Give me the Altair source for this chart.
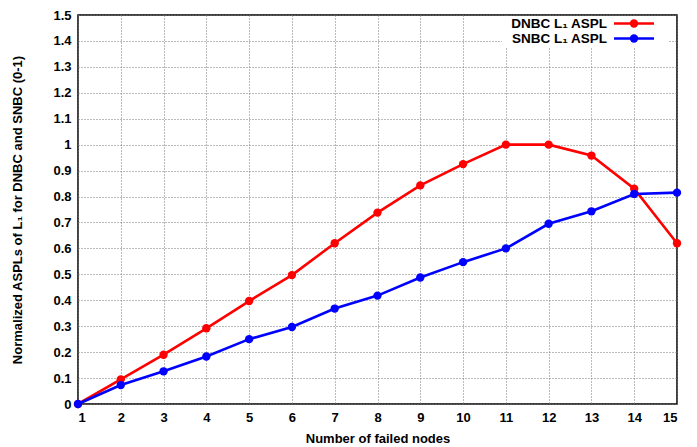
import altair as alt
import pandas as pd

nodes = list(range(1, 16))
dnbc = [0.0, 0.095, 0.19, 0.292, 0.397, 0.497, 0.62, 0.738, 0.843, 0.925, 1.0, 1.0, 0.958, 0.83, 0.62]
snbc = [0.0, 0.073, 0.126, 0.183, 0.25, 0.297, 0.368, 0.418, 0.488, 0.547, 0.6, 0.695, 0.743, 0.81, 0.815]
series_names = ["DNBC", "SNBC"]
series_colors = ["#ff0000", "#0000ff"]
legend_labels = ["DNBC L\u2081 ASPL", "SNBC L\u2081 ASPL"]
y_ticks = [0, 0.1, 0.2, 0.3, 0.4, 0.5, 0.6, 0.7, 0.8, 0.9, 1.0, 1.1, 1.2, 1.3, 1.4, 1.5]

rows = []
for name, vals in zip(series_names, [dnbc, snbc]):
    for n, v in zip(nodes, vals):
        rows.append({"nodes": n, "value": v, "series": name})
df = pd.DataFrame(rows)

FONT = "Liberation Sans"

color = alt.Color("series:N", scale=alt.Scale(domain=series_names, range=series_colors), legend=None)

base = alt.Chart(df).encode(
    x=alt.X("nodes:Q", scale=alt.Scale(domain=[1, 15], nice=False),
            axis=alt.Axis(values=nodes, title="Number of failed nodes", format="d")),
    y=alt.Y("value:Q", scale=alt.Scale(domain=[0, 1.5], nice=False),
            axis=alt.Axis(values=y_ticks, format="~g",
                          title="Normalized ASPLs of L\u2081 for DNBC and SNBC (0-1)")),
    color=color,
    detail="series:N",
)

lines = base.mark_line(strokeWidth=2.6)
points = base.mark_point(filled=True, size=70, opacity=1)

layers = [lines, points]

legend_bg = alt.Chart(pd.DataFrame({"a": [0]})).mark_rect(fill="white").encode(
    x=alt.value(424), x2=alt.value(590), y=alt.value(1), y2=alt.value(32)
)
layers.append(legend_bg)

row_y = [8.5, 23.5]
for lab, col, yy in zip(legend_labels, series_colors, row_y):
    d = pd.DataFrame({"label": [lab]})
    layers.append(alt.Chart(d).mark_text(align="right", baseline="middle", font=FONT,
                                         fontWeight="bold", fontSize=13.5, color="black").encode(
        x=alt.value(529), y=alt.value(yy), text="label:N"))
    layers.append(alt.Chart(d).mark_rule(color=col, strokeWidth=2.6).encode(
        x=alt.value(536), x2=alt.value(576), y=alt.value(yy)))
    layers.append(alt.Chart(d).mark_point(filled=True, size=70, opacity=1, color=col).encode(
        x=alt.value(556), y=alt.value(yy)))

chart = alt.layer(*layers).properties(
    width=599, height=389,
    autosize=alt.AutoSizeParams(type="none"),
    padding={"left": 70, "top": 7, "right": 12, "bottom": 40},
).configure_view(
    stroke="black", strokeWidth=1.5
).configure_axis(
    labelFont=FONT, labelFontWeight="bold", labelFontSize=13, labelColor="black",
    titleFont=FONT, titleFontWeight="bold", titleFontSize=13, titleColor="black",
    grid=True, gridColor="#777777", gridDash=[1, 2], gridWidth=1,
    domain=False, ticks=False, labelPadding=7,
).configure_axisX(
    titlePadding=8
).configure_axisY(
    titlePadding=28
)

chart.save("out.html", embed_options={"renderer": "svg", "actions": False})
